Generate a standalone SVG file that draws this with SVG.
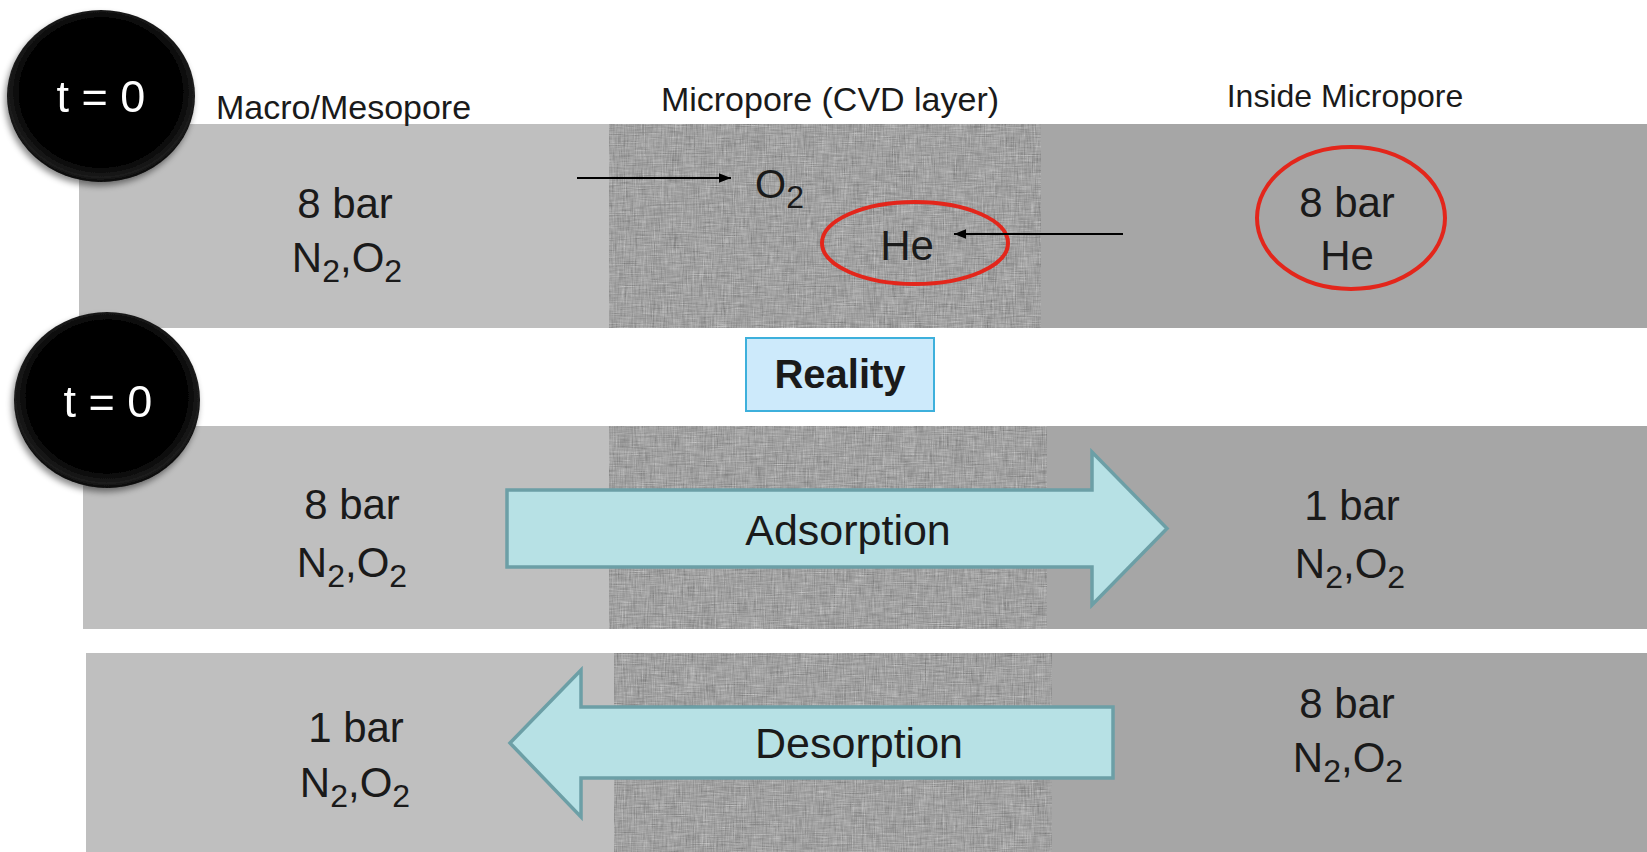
<svg xmlns="http://www.w3.org/2000/svg" width="1647" height="852" viewBox="0 0 1647 852">
<defs>
<style>
.light{fill:#bfbfbf}
.dark{fill:#a6a6a6}
.tex{fill:#a2a2a2;filter:url(#noise)}
.t{font-family:"Liberation Sans",Arial,sans-serif;fill:#1a1a1a}
.big{font-size:42px;text-anchor:middle}
.hdr{font-size:34px}
.sub{font-size:32px}
.tw{font-family:"Liberation Sans",Arial,sans-serif;fill:#ffffff;font-size:45px;text-anchor:middle}
.red{fill:none;stroke:#e3261b;stroke-width:4}
.barrow{fill:#b7e1e5;stroke:#6c9fa6;stroke-width:3.5;stroke-linejoin:miter}
.line{stroke:#000;stroke-width:2;fill:none}
</style>
<filter id="noise" x="0" y="0" width="100%" height="100%" color-interpolation-filters="sRGB">
<feTurbulence type="fractalNoise" baseFrequency="0.9 0.06" numOctaves="2" seed="7" result="v"/>
<feTurbulence type="fractalNoise" baseFrequency="0.06 0.9" numOctaves="2" seed="3" result="h"/>
<feComposite in="v" in2="h" operator="arithmetic" k1="0" k2="0.5" k3="0.5" k4="0" result="n"/>
<feColorMatrix in="n" type="matrix" values="0.33 0.33 0.33 0 0 0.33 0.33 0.33 0 0 0.33 0.33 0.33 0 0 0 0 0 0 1" result="g"/>
<feComponentTransfer in="g" result="c">
<feFuncR type="linear" slope="0.75" intercept="0.26"/>
<feFuncG type="linear" slope="0.75" intercept="0.26"/>
<feFuncB type="linear" slope="0.75" intercept="0.26"/>
</feComponentTransfer>
<feComposite in="c" in2="SourceGraphic" operator="in"/>
</filter>
<radialGradient id="btn" cx="50%" cy="48%" r="52%">
<stop offset="0" stop-color="#000"/>
<stop offset="0.84" stop-color="#060606"/>
<stop offset="0.95" stop-color="#1c1c1c"/>
<stop offset="1" stop-color="#050505"/>
</radialGradient>
<filter id="shadow" x="-20%" y="-20%" width="140%" height="140%">
<feDropShadow dx="-2" dy="4" stdDeviation="3" flood-color="#000" flood-opacity="0.45"/>
</filter>
<marker id="ah" viewBox="0 0 10 10" refX="10" refY="5" markerWidth="6" markerHeight="6" orient="auto" markerUnits="strokeWidth">
<path d="M0,1 L10,5 L0,9 Z" fill="#000"/>
</marker>
</defs>

<g id="band1">
<rect class="light" x="79" y="124" width="530" height="204"/>
<rect class="tex" x="609" y="124" width="432" height="204"/>
<rect class="dark" x="1041" y="124" width="606" height="204"/>
</g>
<g id="band2">
<rect class="light" x="83" y="426" width="526" height="203"/>
<rect class="tex" x="609" y="426" width="438" height="203"/>
<rect class="dark" x="1047" y="426" width="600" height="203"/>
</g>
<g id="band3">
<rect class="light" x="86" y="653" width="528" height="199"/>
<rect class="tex" x="614" y="653" width="438" height="199"/>
<rect class="dark" x="1052" y="653" width="595" height="199"/>
</g>

<g id="headers">
<text class="t hdr" x="216" y="119">Macro/Mesopore</text>
<text class="t hdr" x="830" y="111" text-anchor="middle">Micropore (CVD layer)</text>
<text class="t" x="1345" y="107" font-size="32" text-anchor="middle">Inside Micropore</text>
</g>

<g id="time1" filter="url(#shadow)">
<ellipse cx="101" cy="96" rx="94" ry="86" fill="url(#btn)"/>
<text class="tw" x="101" y="112">t = 0</text>
</g>
<g id="time2" filter="url(#shadow)">
<ellipse cx="107" cy="400" rx="93" ry="88" fill="url(#btn)"/>
<text class="tw" x="108" y="417">t = 0</text>
</g>

<g id="b1-left">
<text class="t big" x="345" y="218">8 bar</text>
<text class="t big" x="347" y="272">N<tspan class="sub" dy="10">2</tspan><tspan dy="-10">,O</tspan><tspan class="sub" dy="10">2</tspan></text>
</g>
<g id="b1-o2">
<text class="t" x="755" y="198" font-size="40">O<tspan class="sub" dy="10">2</tspan></text>
</g>
<g id="b1-he">
<ellipse class="red" cx="915" cy="243" rx="93" ry="41"/>
<text class="t big" x="907" y="260">He</text>
</g>
<g id="b1-right">
<ellipse class="red" cx="1351" cy="218" rx="94" ry="71"/>
<text class="t big" x="1347" y="217">8 bar</text>
<text class="t big" x="1347" y="270">He</text>
</g>

<g id="reality">
<rect x="746" y="338" width="188" height="73" fill="#cdeafb" stroke="#3db0dc" stroke-width="2"/>
<text class="t" x="840" y="388" font-size="40" font-weight="bold" text-anchor="middle" fill="#000">Reality</text>
</g>

<g id="b2-left">
<text class="t big" x="352" y="519">8 bar</text>
<text class="t big" x="352" y="577">N<tspan class="sub" dy="10">2</tspan><tspan dy="-10">,O</tspan><tspan class="sub" dy="10">2</tspan></text>
</g>
<g id="b2-right">
<text class="t big" x="1352" y="520">1 bar</text>
<text class="t big" x="1350" y="578">N<tspan class="sub" dy="10">2</tspan><tspan dy="-10">,O</tspan><tspan class="sub" dy="10">2</tspan></text>
</g>
<g id="b3-left">
<text class="t big" x="356" y="742">1 bar</text>
<text class="t big" x="355" y="797">N<tspan class="sub" dy="10">2</tspan><tspan dy="-10">,O</tspan><tspan class="sub" dy="10">2</tspan></text>
</g>
<g id="b3-right">
<text class="t big" x="1347" y="718">8 bar</text>
<text class="t big" x="1348" y="772">N<tspan class="sub" dy="10">2</tspan><tspan dy="-10">,O</tspan><tspan class="sub" dy="10">2</tspan></text>
</g>

<g id="connectors">
<line class="line" x1="577" y1="178" x2="731" y2="178" marker-end="url(#ah)"/>
<line class="line" x1="1123" y1="234" x2="954" y2="234" marker-end="url(#ah)"/>
<g id="adsorption">
<path class="barrow" d="M507,490 L1092,490 L1092,452 L1167,528.5 L1092,605 L1092,567 L507,567 Z"/>
<text class="t" x="848" y="545" font-size="43" text-anchor="middle">Adsorption</text>
</g>
<g id="desorption">
<path class="barrow" d="M510,743 L581,670 L581,707 L1113,707 L1113,778 L581,778 L581,817 Z"/>
<text class="t" x="859" y="758" font-size="43" text-anchor="middle">Desorption</text>
</g>
</g>
</svg>
